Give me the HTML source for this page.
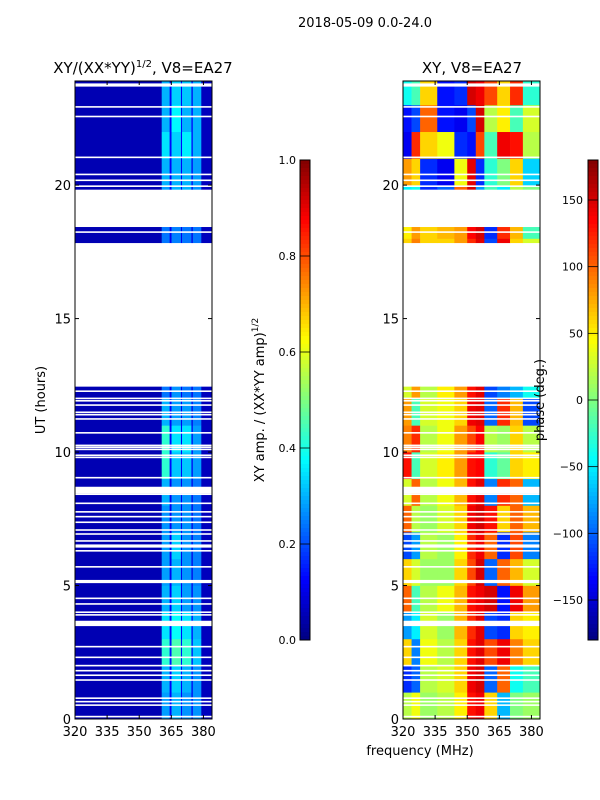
<!DOCTYPE html>
<html><head><meta charset="utf-8">
<style>
html,body{margin:0;padding:0;background:#fff;}
svg{display:block;font-family:"DejaVu Sans","Liberation Sans",sans-serif;}
</style></head>
<body>
<svg id="fig" width="600" height="800" viewBox="0 0 600 800">
<text x="365" y="27" font-size="13" text-anchor="middle">2018-05-09 0.0-24.0</text>
<text x="143" y="73" font-size="15" text-anchor="middle">XY/(XX*YY)<tspan font-size="10" dy="-6">1/2</tspan><tspan dy="6">, V8=EA27</tspan></text>
<text x="472" y="73" font-size="15" text-anchor="middle">XY, V8=EA27</text>
<text x="45" y="400" font-size="13" text-anchor="middle" transform="rotate(-90 45 400)">UT (hours)</text>
<text x="420" y="755" font-size="13" text-anchor="middle">frequency (MHz)</text>
<text x="264" y="400" font-size="13" text-anchor="middle" transform="rotate(-90 264 400)">XY amp. / (XX*YY amp)<tspan font-size="9" dy="-6">1/2</tspan></text>
<g id="ampPanel"></g>
<g id="phPanel"></g>
<text x="544" y="400" font-size="13" text-anchor="middle" transform="rotate(-90 544 400)">phase (deg.)</text>
<g id="cb1"></g>
<g id="cb2"></g>
</svg>
<script>
// ---- data ----
const hourRows = [0,1,2,3,4,5,6,7,8,9,10,11,12,13,14,15,16,17,18,19,20,21,22,23];
const dataSpans = [[0,12.45],[17.84,18.43],[19.84,23.9]];
const gapLines = [0.09,0.52,0.65,0.78,1.46,1.64,1.81,2.0,2.31,2.71,3.9,4.0,4.31,4.52,5.7,6.3,6.67,6.93,7.08,7.37,7.58,7.76,8.08,8.42,9.04,9.8,9.88,10.1,10.18,10.25,10.72,11.24,11.4,11.49,11.76,11.92,12.01,12.28,18.24,19.96,20.18,20.4,21.04,22.57,22.93];
const gapBands = [[3.48,3.68],[5.09,5.21],[6.42,6.54],[8.45,8.7],[23.69,23.81]];
const ampFreqEdges = [320,360.5,364.2,365.1,369.5,370,374.4,375,379,384];
const ampGrid = [
[.05,.28,.12,.3,.12,.27,.11,.27,.06],
[.05,.3,.12,.33,.12,.3,.11,.27,.06],
[.05,.42,.14,.45,.14,.42,.12,.32,.06],
[.05,.35,.13,.38,.13,.35,.12,.3,.06],
[.05,.3,.12,.33,.12,.28,.11,.27,.06],
[.05,.28,.11,.3,.11,.27,.1,.25,.06],
[.05,.28,.11,.33,.11,.27,.1,.25,.06],
[.05,.27,.11,.27,.11,.27,.1,.24,.06],
[.05,.3,.11,.27,.11,.27,.1,.24,.06],
[.05,.42,.13,.32,.12,.32,.11,.28,.06],
[.05,.42,.13,.35,.12,.35,.11,.28,.06],
[.05,.3,.12,.28,.11,.28,.1,.25,.06],
[.05,.24,.11,.27,.11,.24,.1,.24,.06],
[.05,.24,.11,.24,.11,.24,.1,.24,.06],
[.05,.24,.11,.24,.11,.24,.1,.24,.06],
[.05,.24,.11,.24,.11,.24,.1,.24,.06],
[.05,.24,.11,.24,.11,.24,.1,.24,.06],
[.05,.24,.11,.25,.11,.24,.1,.24,.06],
[.05,.24,.11,.25,.11,.24,.1,.24,.06],
[.05,.28,.12,.3,.12,.3,.11,.27,.06],
[.05,.3,.12,.3,.12,.3,.11,.28,.06],
[.05,.35,.13,.33,.13,.36,.12,.3,.06],
[.05,.3,.13,.37,.13,.3,.12,.3,.06],
[.05,.3,.12,.33,.12,.32,.11,.3,.06]];
const phFreqEdges = [320,324,328,336,344,350,354,358,364,370,376,384];
const phGrid = [
[20,40,10,20,50,130,140,60,-70,0,10],
[-120,-100,20,30,60,140,150,-100,100,-40,-20],
[60,-90,40,20,60,130,145,110,140,90,60],
[-80,-50,30,10,70,120,145,-110,-120,60,50],
[100,-20,20,40,70,130,140,150,-130,140,80],
[60,30,10,10,60,110,150,-100,100,70,30],
[-110,-80,20,10,50,120,140,100,-120,110,-90],
[100,20,10,30,60,140,150,130,60,100,70],
[30,100,20,40,70,130,145,-90,120,100,-70],
[130,-20,30,50,80,130,135,-30,-10,60,50],
[90,120,20,40,80,110,135,20,10,60,20],
[80,-20,30,40,60,140,145,-100,120,70,-110],
[30,80,20,50,80,130,145,-110,-90,-70,-40],
[0,0,0,0,0,0,0,0,0,0,0],
[0,0,0,0,0,0,0,0,0,0,0],
[0,0,0,0,0,0,0,0,0,0,0],
[0,0,0,0,0,0,0,0,0,0,0],
[60,90,60,60,80,120,145,-110,140,60,30],
[50,80,60,70,80,135,150,-120,120,70,-20],
[-50,-40,-120,-100,100,150,-80,-20,-50,20,0],
[80,60,-120,-140,40,145,-120,-30,0,60,-60],
[-140,120,60,40,-120,-130,110,-20,140,130,20],
[-130,-110,100,-130,-140,-110,150,20,50,-20,30],
[-40,-20,60,-130,-120,150,140,110,60,120,-30]];
const xTicks = [320,335,350,365,380];
const yTicks = [0,5,10,15,20];
const ampTicks = [0,0.2,0.4,0.6,0.8,1.0];
const phTicks = [-150,-100,-50,0,50,100,150];

// ---- helpers ----
const NS='http://www.w3.org/2000/svg';
function mk(tag,attrs,parent){const e=document.createElementNS(NS,tag);for(const k in attrs)e.setAttribute(k,attrs[k]);parent.appendChild(e);return e;}
function jet(v){v=Math.max(0,Math.min(1,v));
 const r=Math.max(0,Math.min(1,1.5-Math.abs(4*v-3))),g=Math.max(0,Math.min(1,1.5-Math.abs(4*v-2))),b=Math.max(0,Math.min(1,1.5-Math.abs(4*v-1)));
 return `rgb(${Math.round(r*255)},${Math.round(g*255)},${Math.round(b*255)})`;}
const Y0=719,Y1=81,HMAX=23.9;
const yS=h=>Y0-(h/HMAX)*(Y0-Y1);
function panel(gid,x0,x1,fEdges,grid,norm){
 const g=document.getElementById(gid);
 const xS=f=>x0+(f-320)/(384-320)*(x1-x0);
 hourRows.forEach((h,r)=>{
  dataSpans.forEach(sp=>{
   const a=Math.max(h,sp[0]),b=Math.min(h+1,sp[1]);
   if(b<=a)return;
   for(let c=0;c<fEdges.length-1;c++){
    const cell=mk('rect',{x:xS(fEdges[c]),y:yS(b),width:xS(fEdges[c+1])-xS(fEdges[c])+0.3,height:yS(a)-yS(b)+0.3,fill:jet(norm(grid[r][c]))},g);
    
    
   }
  });
 });
 gapLines.forEach(h=>{const l=mk('rect',{x:x0,y:yS(h)-0.8,width:x1-x0,height:1.6,fill:'#fff'},g);
  
  });
 gapBands.forEach(b=>{const l=mk('rect',{x:x0,y:yS(b[1]),width:x1-x0,height:yS(b[0])-yS(b[1]),fill:'#fff'},g);
  
  });
 mk('rect',{x:x0,y:Y1,width:x1-x0,height:Y0-Y1,fill:'none',stroke:'#000','stroke-width':1},g);
 xTicks.forEach(t=>{const x=xS(t);
  mk('line',{x1:x,x2:x,y1:Y0,y2:Y0-4,stroke:'#000'},g);mk('line',{x1:x,x2:x,y1:Y1,y2:Y1+4,stroke:'#000'},g);
  const tx=mk('text',{x:x,y:Y0+17,'font-size':13,'text-anchor':'middle'},g);tx.textContent=t;
  
  });
 yTicks.forEach(t=>{const y=yS(t);
  mk('line',{x1:x0,x2:x0+4,y1:y,y2:y,stroke:'#000'},g);mk('line',{x1:x1,x2:x1-4,y1:y,y2:y,stroke:'#000'},g);
  const tx=mk('text',{x:x0-4,y:y+5,'font-size':13,'text-anchor':'end'},g);tx.textContent=t;
  
  });
}
panel('ampPanel',75,212,ampFreqEdges,ampGrid,v=>v);
panel('phPanel',403,540,phFreqEdges,phGrid,v=>(v+180)/360);

function colorbar(gid,x,lo,hi,ticks,fmt,labX){
 const g=document.getElementById(gid);const top=160,bot=640,n=120;
 const yC=v=>bot-(v-lo)/(hi-lo)*(bot-top);
 for(let i=0;i<n;i++){mk('rect',{x:x,y:top+i*(bot-top)/n,width:10,height:(bot-top)/n+0.5,fill:jet(1-(i+0.5)/n)},g);}
 mk('rect',{x:x,y:top,width:10,height:bot-top,fill:'none',stroke:'#000'},g);
 ticks.forEach(t=>{const y=yC(t);
  mk('line',{x1:x,x2:x+10,y1:y,y2:y,stroke:'#000','stroke-width':0.8},g);
  const tx=mk('text',{x:labX,y:y+4,'font-size':11,'text-anchor':'end'},g);tx.textContent=fmt(t);
  
  });
}
colorbar('cb1',300,0,1,ampTicks,t=>t.toFixed(1),296);
colorbar('cb2',588,-180,180,phTicks,t=>t<0?'\u2212'+(-t):''+t,583);
</script>
</body></html>
